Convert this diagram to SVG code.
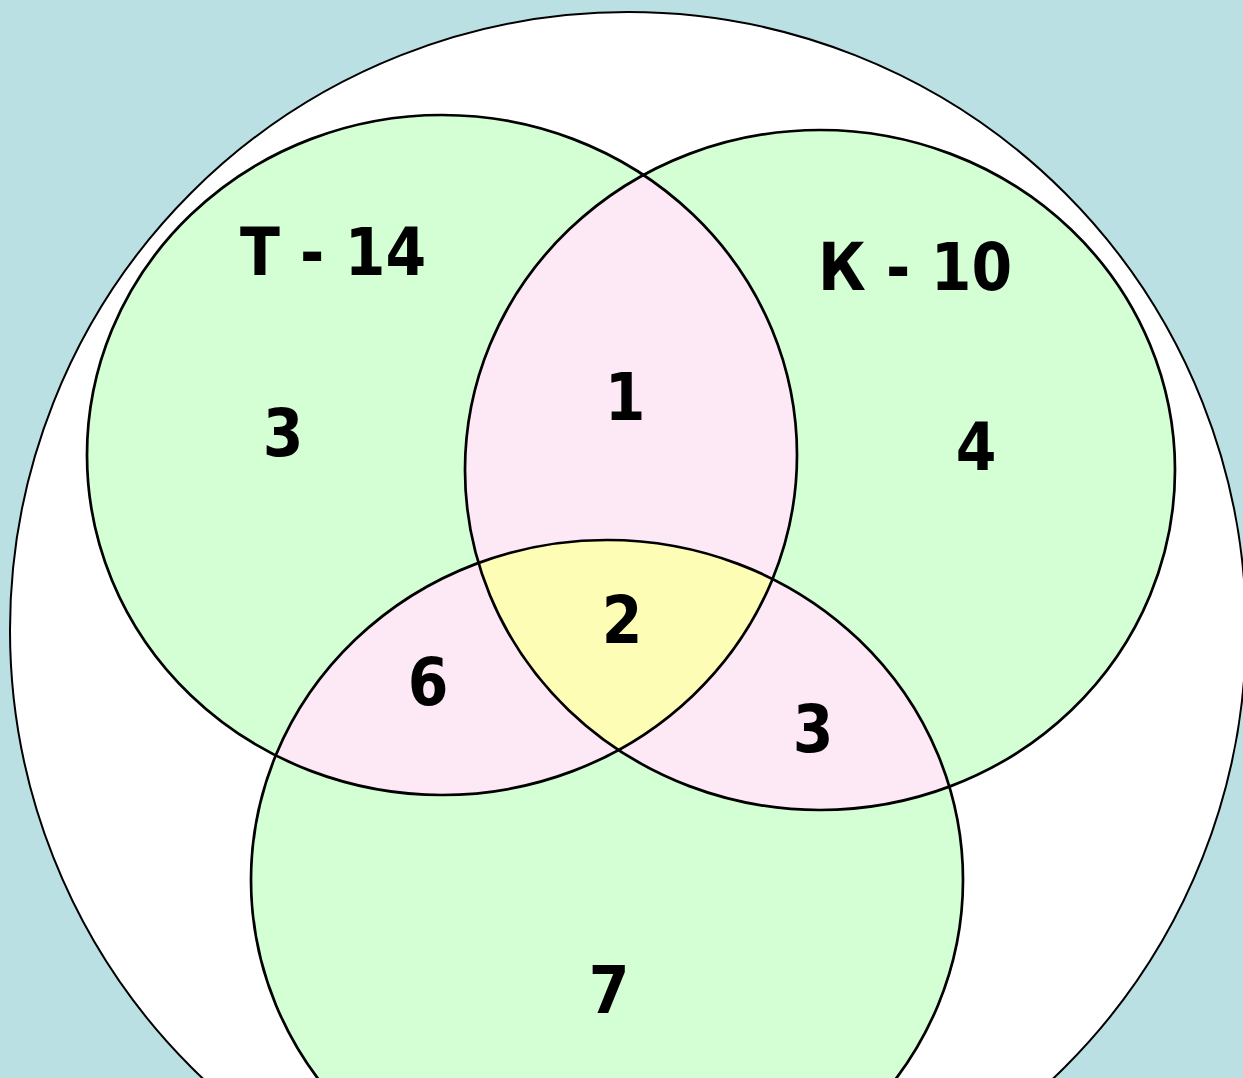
<svg xmlns="http://www.w3.org/2000/svg" width="1243" height="1078" viewBox="0 0 1243 1078">
<style>
.set{fill:#d4fed4}
.pair{fill:#fde8f5}
.triple{fill:#fdfdb5}
.edge{fill:none;stroke:#000;stroke-width:2.7}
.lbl{font-family:"DejaVu Sans Condensed","DejaVu Sans",sans-serif;font-weight:bold;font-size:65px;fill:#000;text-anchor:middle}
</style>
<defs>
<clipPath id="cT"><ellipse cx="442" cy="455" rx="355" ry="340"/></clipPath>
<clipPath id="cK"><ellipse cx="820" cy="470" rx="355" ry="340"/></clipPath>
</defs>
<rect width="1243" height="1078" fill="#bae0e3"/>
<g id="universe">
<circle cx="628" cy="630" r="618" fill="#fff" stroke="#000" stroke-width="2"/>
</g>
<g id="set-T"><ellipse class="set" cx="442" cy="455" rx="355" ry="340"/></g>
<g id="set-K"><ellipse class="set" cx="820" cy="470" rx="355" ry="340"/></g>
<g id="set-B"><ellipse class="set" cx="607" cy="880" rx="356" ry="340"/></g>
<g id="region-TK"><ellipse class="pair" cx="820" cy="470" rx="355" ry="340" clip-path="url(#cT)"/></g>
<g id="region-TB"><ellipse class="pair" cx="607" cy="880" rx="356" ry="340" clip-path="url(#cT)"/></g>
<g id="region-KB"><ellipse class="pair" cx="607" cy="880" rx="356" ry="340" clip-path="url(#cK)"/></g>
<g id="region-TKB"><g clip-path="url(#cT)"><ellipse class="triple" cx="607" cy="880" rx="356" ry="340" clip-path="url(#cK)"/></g></g>
<g id="outlines">
<ellipse class="edge" cx="442" cy="455" rx="355" ry="340"/>
<ellipse class="edge" cx="820" cy="470" rx="355" ry="340"/>
<ellipse class="edge" cx="607" cy="880" rx="356" ry="340"/>
</g>
<g id="labels">
<text class="lbl" x="333" y="275">Т - 14</text>
<text class="lbl" x="915" y="290">К - 10</text>
<text class="lbl" x="283" y="456">3</text>
<text class="lbl" x="625" y="420">1</text>
<text class="lbl" x="976" y="470">4</text>
<text class="lbl" x="622" y="643">2</text>
<text class="lbl" x="428" y="705">6</text>
<text class="lbl" x="813" y="752">3</text>
<text class="lbl" x="609" y="1013">7</text>
</g>
</svg>
